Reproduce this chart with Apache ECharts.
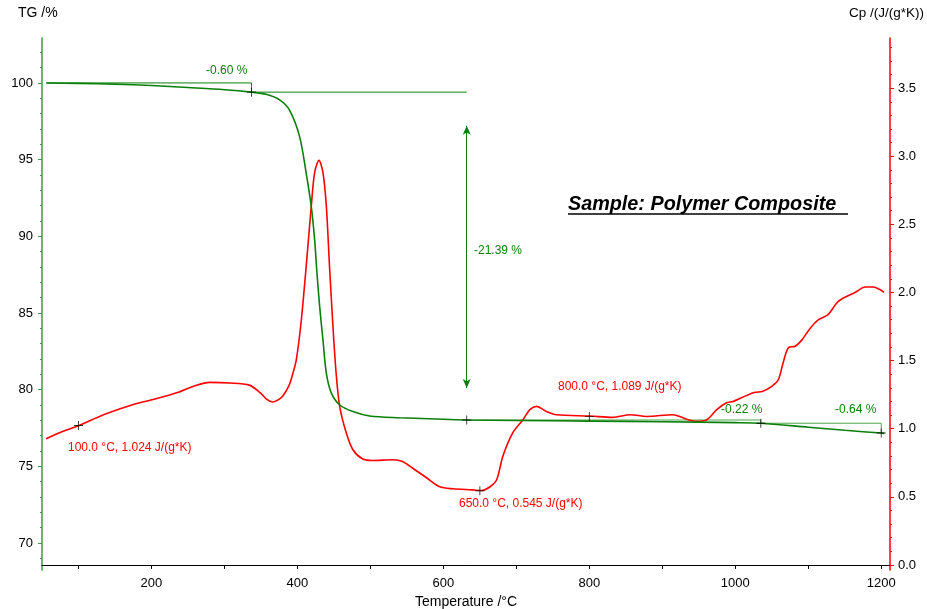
<!DOCTYPE html>
<html><head><meta charset="utf-8">
<script src="https://cdn.jsdelivr.net/npm/echarts@6/dist/echarts.min.js"></script>
<style>html,body{margin:0;padding:0;background:#fff}#c{width:927px;height:609px}</style>
</head><body><div id="c"></div>
<script>
// ---- data ----
const tgCurve = [[56,100.0],[100,99.97],[150,99.92],[200,99.83],[250,99.70],[300,99.56],[337,99.40],[357,99.26],[375.6,98.9],[389,98.24],[403,96.5],[412,94.12],[419,91.94],[423.6,89.77],[426.8,87.59],[430.5,85.41],[435,83.24],[439.6,81.07],[446.5,79.77],[458,79.0],[476,78.57],[499,78.28],[540,78.17],[600,78.07],[632,78.02],[700,77.99],[800,77.95],[900,77.91],[1000,77.85],[1035,77.81],[1100,77.55],[1150,77.35],[1200,77.17],[1204,77.15]];
const cpCurve = [[55.6,0.926],[78,0.98],[101,1.024],[120,1.07],[138,1.11],[174,1.176],[206,1.22],[238,1.27],[257,1.31],[280,1.34],[307,1.336],[334,1.32],[350,1.26],[358,1.215],[366,1.196],[373,1.21],[380,1.24],[389,1.324],[394,1.41],[398.5,1.507],[405,1.78],[412,2.19],[419,2.635],[423.6,2.88],[429.5,2.97],[435,2.88],[439.6,2.635],[444,2.19],[448.7,1.75],[453,1.41],[458,1.16],[467,0.968],[476,0.846],[489,0.78],[503,0.767],[531,0.772],[544,0.76],[558,0.71],[577,0.64],[595,0.574],[613,0.559],[640,0.551],[652,0.546],[664,0.574],[673,0.625],[681.6,0.80],[695,0.97],[709,1.066],[718.5,1.14],[727.7,1.164],[741,1.127],[755,1.103],[801,1.093],[832,1.083],[856,1.103],[878.6,1.09],[914.7,1.103],[933.5,1.07],[947,1.054],[961,1.066],[974.6,1.14],[988,1.19],[997,1.20],[1015,1.243],[1027,1.267],[1037,1.274],[1050,1.311],[1059,1.36],[1065.6,1.485],[1073,1.596],[1082,1.605],[1091.6,1.654],[1103,1.74],[1114,1.80],[1127,1.838],[1139.6,1.926],[1148,1.96],[1164,2.0],[1178,2.04],[1189,2.04],[1198.6,2.02],[1204,2.0]];
const tgMarks = [[337,99.40],[632,78.02],[1035,77.81],[1200,77.17]];
const cpMarks = [[100,1.024],[650,0.545],[800,1.089]];
const stepStart = 56, stepStartTG = 100.0;
const arrowTop = 97.2, arrowBottom = 80.1;
const xLabels = [200,400,600,800,1000,1200];
const xTicks = [100,200,300,400,500,600,700,800,900,1000,1100,1200];
const tgLabels = [70,75,80,85,90,95,100];
const tgMinor = [69,70,71,72,73,74,75,76,77,78,79,80,81,82,83,84,85,86,87,88,89,90,91,92,93,94,95,96,97,98,99,100,101,102];
const cpLabels = [0,0.5,1.0,1.5,2.0,2.5,3.0,3.5];
const cpMinor = [0,0.1,0.2,0.3,0.4,0.5,0.6,0.7,0.8,0.9,1.0,1.1,1.2,1.3,1.4,1.5,1.6,1.7,1.8,1.9,2.0,2.1,2.2,2.3,2.4,2.5,2.6,2.7,2.8,2.9,3.0,3.1,3.2,3.3,3.4,3.5,3.6,3.7,3.8];

// ---- derived annotation geometry ----
const m = tgMarks;
const br1 = [[stepStart,stepStartTG],[m[0][0],stepStartTG],[m[0][0],m[0][1]]];
const br1b = [[m[0][0],m[0][1]],[m[1][0],m[0][1]]];
const br2 = [[m[1][0],m[1][1]],[m[2][0],m[1][1]],[m[2][0],m[2][1]]];
const br3 = [[m[2][0],m[2][1]],[m[3][0],m[2][1]],[m[3][0],m[3][1]]];

const FONT = "'Liberation Sans', Arial, sans-serif";
const GREEN = '#0a800a', RED = '#ff0000', AXG = '#3d9c3d';
const plus = 'path://M0,4.5H10V5.5H0Z M4.5,0H5.5V10H4.5Z';
const TGMIN = 68.24, TGMAX = 102.93, CPMIN = -0.037, CPMAX = 3.868;

const chart = echarts.init(document.getElementById('c'), null, {renderer:'canvas'});
const brLine = (d, color) => ({type:'line', data:d, yAxisIndex:0, symbol:'none', silent:true, z:3,
  lineStyle:{color:color||'#4da64d', width:1}});
chart.setOption({
  animation:false,
  grid:{left:42, right:37, top:38, bottom:39, containLabel:false, outerBoundsMode:'none'},
  xAxis:{type:'value', min:50, max:1212,
    name:'Temperature /°C', nameLocation:'middle', nameGap:22,
    nameTextStyle:{color:'#000', fontSize:14, fontFamily:FONT},
    axisLine:{lineStyle:{color:'#000', width:1}},
    axisTick:{show:true, length:4, customValues:xTicks, lineStyle:{color:'#000'}},
    axisLabel:{customValues:xLabels, margin:7, color:'#000', fontSize:13, fontFamily:FONT,
      formatter:v=>String(v)},
    splitLine:{show:false}},
  yAxis:[
    {type:'value', position:'left', min:TGMIN, max:TGMAX,
      axisLine:{show:true, lineStyle:{color:AXG, width:1.5}},
      axisTick:{show:true, length:4, customValues:tgLabels, lineStyle:{color:AXG}},
      axisLabel:{customValues:tgLabels, margin:9, color:'#000', fontSize:13, fontFamily:FONT,
        formatter:v=>String(v)},
      splitLine:{show:false}},
    {type:'value', position:'right', min:CPMIN, max:CPMAX,
      axisLine:{show:true, lineStyle:{color:RED, width:1.5}},
      axisTick:{show:true, length:4, customValues:cpLabels, lineStyle:{color:RED}},
      axisLabel:{customValues:cpLabels, margin:8, color:'#000', fontSize:13, fontFamily:FONT,
        formatter:v=>v.toFixed(1)},
      splitLine:{show:false}},
    {type:'value', position:'left', min:TGMIN, max:TGMAX,
      axisLine:{show:false}, axisLabel:{show:false}, splitLine:{show:false},
      axisTick:{show:true, length:2, customValues:tgMinor, lineStyle:{color:AXG}}},
    {type:'value', position:'right', min:CPMIN, max:CPMAX,
      axisLine:{show:false}, axisLabel:{show:false}, splitLine:{show:false},
      axisTick:{show:true, length:2, customValues:cpMinor, lineStyle:{color:RED}}}
  ],
  series:[
    brLine(br1, GREEN), brLine(br1b, GREEN), brLine(br2), brLine(br3),
    {type:'line', data:cpCurve, yAxisIndex:1, symbol:'none', smooth:0.3, z:4,
      lineStyle:{color:RED, width:1.6}},
    {type:'line', data:tgCurve, yAxisIndex:0, symbol:'none', smooth:0.3, z:5,
      lineStyle:{color:GREEN, width:1.6},
      markLine:{silent:true, symbol:['arrow','arrow'], symbolSize:[6,9],
        label:{show:false}, lineStyle:{color:GREEN, width:1, type:'solid'},
        data:[[{coord:[m[1][0],arrowTop]},{coord:[m[1][0],arrowBottom]}]]}},
    {type:'scatter', data:tgMarks, yAxisIndex:0, symbol:plus, symbolSize:9, z:10,
      itemStyle:{color:'#000'}, silent:true},
    {type:'scatter', data:cpMarks, yAxisIndex:1, symbol:plus, symbolSize:9, z:10,
      itemStyle:{color:'#000'}, silent:true}
  ],
  graphic:[
    {type:'text', left:18, top:6, style:{text:'TG /%', fill:'#000', font:'14px '+FONT}},
    {type:'text', right:3, top:6, style:{text:'Cp /(J/(g*K))', fill:'#000', font:'13.5px '+FONT}},
    {type:'text', left:206, top:65, style:{text:'-0.60 %', fill:GREEN, font:'12px '+FONT}},
    {type:'text', left:474, top:245, style:{text:'-21.39 %', fill:GREEN, font:'12px '+FONT}},
    {type:'text', left:721, top:404, style:{text:'-0.22 %', fill:GREEN, font:'12px '+FONT}},
    {type:'text', left:835, top:404, style:{text:'-0.64 %', fill:GREEN, font:'12px '+FONT}},
    {type:'text', left:68, top:442, style:{text:'100.0 °C, 1.024 J/(g*K)', fill:RED, font:'12px '+FONT}},
    {type:'text', left:459, top:498, style:{text:'650.0 °C, 0.545 J/(g*K)', fill:RED, font:'12px '+FONT}},
    {type:'text', left:558, top:381, style:{text:'800.0 °C, 1.089 J/(g*K)', fill:RED, font:'12px '+FONT}},
    {type:'text', left:568, top:195, style:{text:'Sample: Polymer Composite', fill:'#000', font:'italic bold 19.8px '+FONT}},
    {type:'line', shape:{x1:568, y1:214, x2:848, y2:214}, style:{stroke:'#000', lineWidth:1.5}}
  ]
});
</script></body></html>
